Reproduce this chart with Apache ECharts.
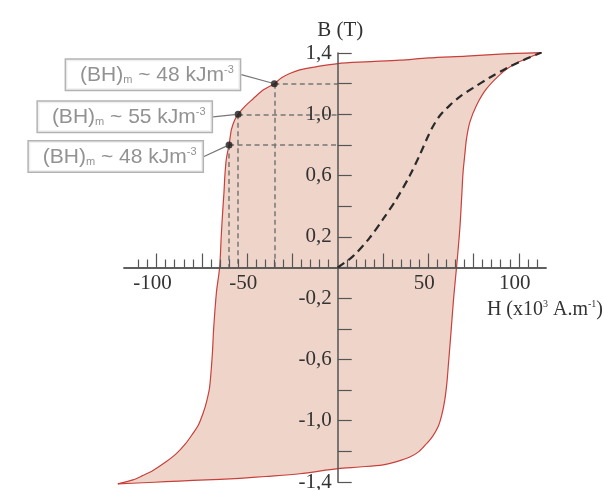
<!DOCTYPE html>
<html>
<head>
<meta charset="utf-8">
<script src="https://cdn.jsdelivr.net/npm/echarts@6/dist/echarts.min.js"></script>
<style>
  html, body { margin: 0; padding: 0; background: #fff; }
  #chart { width: 604px; height: 490px; }
</style>
</head>
<body>
<div id="chart"></div>
<script>
// descending branch (from +saturation to -saturation)
const upperH = [112.5, 98.7, 85, 71, 50, 34.3, 15, 0, -12, -21, -26.5, -31, -35, -41, -46.8, -51, -55, -57, -58.7, -60, -61.5, -62.3, -62.8, -63.6, -64.3, -65.2, -67, -68.5, -69.2, -70.7, -72.5, -74.4, -77, -80, -84, -89.1, -95, -102, -108, -113.1, -121.4];
const upperB = [1.403, 1.397, 1.39, 1.38, 1.368, 1.353, 1.342, 1.331, 1.31, 1.29, 1.266, 1.238, 1.2, 1.16, 1.10, 1.055, 1.0, 0.96, 0.9, 0.8, 0.708, 0.6, 0.49, 0.35, 0.205, 0, -0.166, -0.40, -0.56, -0.778, -0.88, -0.953, -1.03, -1.084, -1.15, -1.215, -1.27, -1.325, -1.36, -1.386, -1.412];

// ascending branch (from -saturation to +saturation)
const lowerH = [-121.4, -107.5, -95, -80, -65, -54, -40, -21, 0, 12, 25, 33, 39.8, 45, 49, 52.5, 55.4, 57.5, 59.1, 60.3, 61.2, 62.5, 64, 65.6, 67.4, 68.4, 69.2, 70.2, 71.1, 73, 76.6, 82.2, 91.3, 98, 104.3, 112.5];
const lowerB = [-1.412, -1.405, -1.398, -1.39, -1.383, -1.376, -1.364, -1.346, -1.313, -1.302, -1.288, -1.265, -1.237, -1.2, -1.15, -1.10, -1.04, -0.96, -0.866, -0.75, -0.62, -0.43, -0.2, 0, 0.25, 0.45, 0.62, 0.74, 0.84, 0.95, 1.058, 1.167, 1.277, 1.33, 1.364, 1.403];

// first magnetisation curve
const virginH = [0, 8.5, 17.7, 25, 32.4, 39.8, 45.5, 50, 53.5, 57, 62, 68, 74.8, 84, 93.2, 102.4, 112.5];
const virginB = [0, 0.074, 0.195, 0.315, 0.446, 0.6, 0.74, 0.86, 0.94, 1.0, 1.06, 1.12, 1.172, 1.24, 1.3, 1.353, 1.403];

// (BH)max points
const bhH = [-35, -55, -60];
const bhB = [1.2, 1.0, 0.8];
const bhValues = [48, 55, 48];

// axis ticks / labels
const xMajorTicks = [-100, -75, -50, -25, 25, 50, 75, 100];
const xMinorTicks = [-110, -105, -95, -90, -85, -80, -70, -65, -60, -55, -45, -40, -35, -30, -20, -15, -10, -5,
  5, 10, 15, 20, 30, 35, 40, 45, 55, 60, 65, 70, 80, 85, 90, 95, 105, 110];
const xLabels = [-100, -50, 50, 100];
const yLabels = [-1.4, -1.0, -0.6, -0.2, 0.2, 0.6, 1.0, 1.4];

const axisColor = '#555';
const textColor = '#333';
const serif = 'Liberation Serif';
const sans = 'Liberation Sans';

// grid geometry, axes are shifted so they cross at (0, 0)
const grid = { left: 124, top: 53, width: 422, height: 429 };
const xMin = -118, xMax = 115, yMin = -1.4, yMax = 1.4;
const yAxisOffset = -grid.width * (0 - xMin) / (xMax - xMin);
const xAxisOffset = -grid.height * (0 - yMin) / (yMax - yMin);

// label box offsets (px) relative to each point
const labelDx = [-26, -18, -18];
const labelDy = [-9, 2.5, 11.5];

const chart = echarts.init(document.getElementById('chart'));

const guideLines = [];
bhH.forEach((h, i) => {
  guideLines.push([{ coord: [h, bhB[i]] }, { coord: [0, bhB[i]] }]);
  guideLines.push([{ coord: [h, bhB[i]] }, { coord: [h, 0] }]);
});

const baseX = {
  type: 'value',
  min: xMin,
  max: xMax,
  position: 'bottom',
  offset: xAxisOffset,
  z: 10,
  axisLine: { onZero: false, lineStyle: { color: axisColor, width: 1.5 } },
  splitLine: { show: false },
};

const option = {
  animation: false,
  grid: { left: grid.left, top: grid.top, width: grid.width, height: grid.height, outerBoundsMode: 'none' },
  xAxis: [
    Object.assign({}, baseX, {
      axisTick: { inside: true, length: 14, customValues: xMajorTicks, lineStyle: { color: axisColor, width: 1.2 } },
      axisLabel: {
        customValues: xLabels,
        margin: 5,
        color: textColor,
        fontFamily: serif,
        fontSize: 21,
        padding: [0, 8, 0, 0],
      },
      name: '{a|H (x10}{s|3}{a| A.m}{s|-1}{a|)}',
      nameLocation: 'end',
      nameGap: 57,
      nameTextStyle: {
        align: 'right',
        verticalAlign: 'top',
        padding: [32, 0, 0, 0],
        rich: {
          a: { fontFamily: serif, fontSize: 20, color: textColor },
          s: { fontFamily: serif, fontSize: 10, color: textColor, verticalAlign: 'top' },
        },
      },
    }),
    Object.assign({}, baseX, {
      axisTick: { inside: true, length: 8, customValues: xMinorTicks, lineStyle: { color: axisColor, width: 1.2 } },
      axisLabel: { show: false },
    }),
  ],
  yAxis: {
    type: 'value',
    min: yMin,
    max: yMax,
    interval: 0.2,
    position: 'left',
    offset: yAxisOffset,
    z: 10,
    axisLine: { onZero: false, lineStyle: { color: axisColor, width: 1.5 } },
    axisTick: { inside: true, length: 14, lineStyle: { color: axisColor, width: 1.2 } },
    axisLabel: {
      customValues: yLabels,
      margin: 6,
      color: textColor,
      fontFamily: serif,
      fontSize: 21,
      formatter: (v) => v.toFixed(1).replace('.', ','),
    },
    splitLine: { show: false },
    name: 'B (T)',
    nameLocation: 'end',
    nameGap: 12,
    nameTextStyle: { fontFamily: serif, fontSize: 21, color: textColor, padding: [0, 0, 0, 5] },
  },
  series: [
    {
      // hysteresis loop: filled area + outline
      type: 'custom',
      coordinateSystem: 'cartesian2d',
      xAxisIndex: 0,
      yAxisIndex: 0,
      clip: false,
      silent: true,
      z: 1,
      data: [[0, 0]],
      renderItem: (params, api) => {
        const up = upperH.map((h, i) => api.coord([h, upperB[i]]));
        const lo = lowerH.map((h, i) => api.coord([h, lowerB[i]]));
        return {
          type: 'group',
          children: [
            {
              type: 'polygon',
              shape: { points: up.concat(lo.slice(1, -1)), smooth: 0.3 },
              style: { fill: '#efd5c9', stroke: null },
            },
            {
              type: 'polyline',
              shape: { points: up, smooth: 0.3 },
              style: { fill: null, stroke: '#c8403c', lineWidth: 1.2 },
            },
            {
              type: 'polyline',
              shape: { points: lo, smooth: 0.3 },
              style: { fill: null, stroke: '#c8403c', lineWidth: 1.2 },
            },
          ],
        };
      },
    },
    {
      type: 'line',
      xAxisIndex: 0,
      data: virginH.map((h, i) => [h, virginB[i]]),
      smooth: 0.3,
      symbol: 'none',
      z: 12,
      lineStyle: { color: '#2a2a2a', width: 2.2, type: [8, 5] },
    },
    {
      type: 'scatter',
      xAxisIndex: 0,
      data: bhH.map((h, i) => [h, bhB[i]]),
      symbolSize: 7,
      z: 13,
      itemStyle: { color: '#1a1a1a' },
      label: {
        show: true,
        position: 'left',
        distance: 5,
        backgroundColor: '#fff',
        borderColor: '#a0a0a0',
        borderWidth: 1.5,
        padding: [5, 6, 4, 14],
        formatter: (p) => '{a|(BH)}{s|m}{a| ~ ' + bhValues[p.dataIndex] + ' kJm}{p|-3}',
        rich: {
          a: { fontFamily: sans, fontSize: 21, color: '#777' },
          s: { fontFamily: sans, fontSize: 11, color: '#777', verticalAlign: 'bottom' },
          p: { fontFamily: sans, fontSize: 11, color: '#777', verticalAlign: 'top' },
        },
      },
      labelLine: { show: true, lineStyle: { color: '#777', width: 1.2 } },
      labelLayout: (params) => ({ dx: labelDx[params.dataIndex], dy: labelDy[params.dataIndex] }),
      markLine: {
        silent: true,
        symbol: ['none', 'none'],
        label: { show: false },
        lineStyle: { color: '#777', width: 1.5, type: [5, 3.5] },
        data: guideLines,
      },
    },
  ],
};

chart.setOption(option);
</script>
</body>
</html>
